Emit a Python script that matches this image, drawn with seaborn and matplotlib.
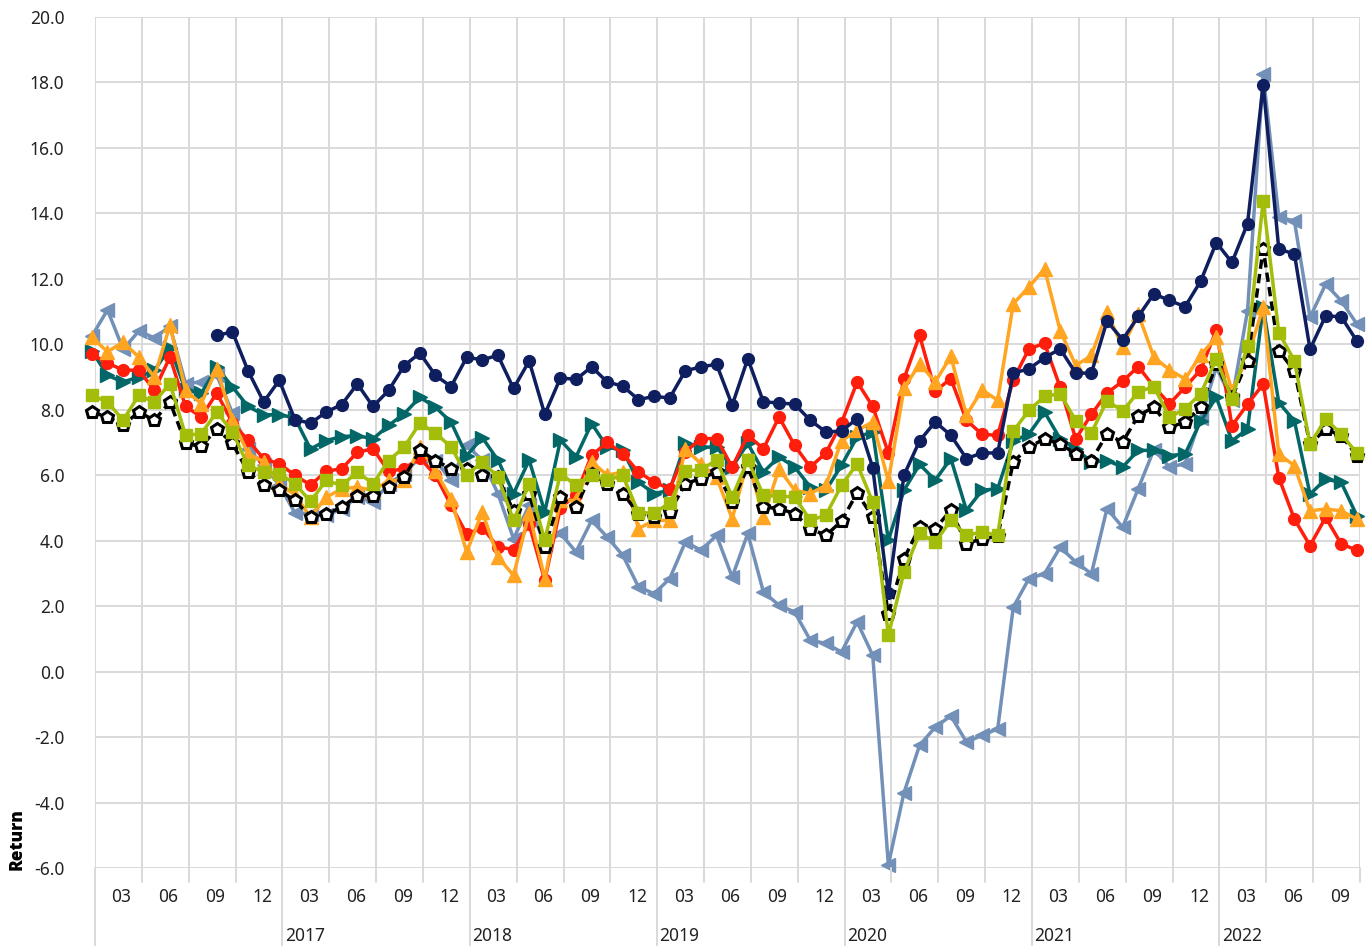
import numpy as np
import pandas as pd
import matplotlib
matplotlib.use("Agg")
import matplotlib.pyplot as plt
import seaborn as sns

# month index 0 = 2016-01 ... 81 = 2022-10
months = np.arange(82)
nan = np.nan

navy = [nan, nan, nan, nan, nan, nan, nan, nan,
        10.27, 10.38, 9.19, 8.24, 8.9, 7.7, 7.59, 7.93, 8.16, 8.79, 8.1, 8.59,
        9.35, 9.73, 9.05, 8.71, 9.6, 9.53, 9.66, 8.65, 9.49, 7.86, 8.97, 8.93,
        9.31, 8.85, 8.72, 8.31, 8.41, 8.36, 9.19, 9.31, 9.39, 8.14, 9.56, 8.24,
        8.21, 8.17, 7.68, 7.32, 7.35, 7.73, 6.23, 2.4, 6.0, 7.05, 7.63, 7.22,
        6.51, 6.68, 6.68, 9.12, 9.25, 9.59, 9.86, 9.12, 9.12, 10.71, 10.14, 10.85,
        11.54, 11.34, 11.15, 11.93, 13.11, 12.5, 13.69, 17.93, 12.91, 12.76, 9.85, 10.87,
        10.84, 10.1]
red = [9.69, 9.43, 9.21, 9.21, 8.6, 9.61, 8.1, 7.78, 8.51, 7.6, 7.07, 6.5,
       6.35, 6.0, 5.7, 6.12, 6.2, 6.7, 6.81, 6.12, 6.2, 6.53, 6.0, 5.08,
       4.2, 4.4, 3.81, 3.73, 4.5, 2.79, 5.0, 5.4, 6.61, 7.0, 6.66, 6.1,
       5.79, 5.59, 6.71, 7.12, 7.12, 6.25, 7.22, 6.81, 7.78, 6.91, 6.25, 6.68,
       7.6, 8.85, 8.1, 6.68, 8.95, 10.27, 8.57, 8.95, 7.68, 7.25, 7.22, 8.92,
       9.86, 10.03, 8.69, 7.11, 7.86, 8.51, 8.87, 9.32, 8.71, 8.18, 8.69, 9.22,
       10.43, 7.51, 8.17, 8.78, 5.93, 4.66, 3.85, 4.71, 3.9, 3.71]
orange = [10.22, 9.77, 10.07, 9.61, 9.0, 10.58, 8.59, 8.19, 9.26, 7.68, 6.66, 6.41,
          5.74, 5.4, 4.72, 5.33, 5.58, 5.64, 5.53, 5.84, 5.84, 6.86, 6.14, 5.28,
          3.65, 4.88, 3.5, 2.94, 4.85, 2.84, 5.23, 5.23, 6.41, 6.0, 6.1, 4.37,
          4.62, 4.62, 6.81, 6.35, 5.94, 4.67, 6.46, 4.73, 6.2, 5.54, 5.44, 5.69,
          7.05, 7.37, 7.63, 5.82, 8.65, 9.41, 8.85, 9.63, 7.83, 8.61, 8.29, 11.24,
          11.75, 12.31, 10.42, 9.35, 9.66, 10.98, 9.91, 10.93, 9.61, 9.22, 8.94, 9.68,
          10.21, 8.58, 9.6, 11.13, 6.65, 6.29, 4.91, 4.97, 4.91, 4.66]
teal = [9.8, 9.05, 8.85, 9.0, 9.2, 9.9, 8.6, 8.5, 9.3, 8.7, 8.1, 7.85,
        7.85, 7.75, 6.8, 7.06, 7.18, 7.21, 7.11, 7.52, 7.88, 8.38, 8.08, 7.62,
        6.6, 7.15, 6.46, 5.44, 6.46, 4.88, 7.07, 6.56, 7.58, 6.86, 6.76, 5.79,
        5.44, 5.54, 6.97, 6.86, 6.86, 6.25, 6.97, 6.1, 6.56, 6.25, 5.64, 5.54,
        6.3, 7.17, 7.32, 4.01, 5.54, 6.33, 5.85, 6.51, 4.93, 5.54, 5.59, 7.04,
        7.26, 7.93, 7.11, 6.81, 6.4, 6.45, 6.25, 6.76, 6.76, 6.6, 6.65, 7.65,
        8.38, 7.05, 7.41, 11.13, 8.22, 7.66, 5.42, 5.88, 5.78, 4.76]
steel = [10.25, 11.05, 9.85, 10.4, 10.2, 10.55, 8.8, 8.85, 9.05, 7.9, 6.8, 6.3,
         5.7, 4.85, 4.82, 4.77, 4.97, 5.33, 5.18, 5.74, 6.04, 6.55, 6.45, 5.84,
         6.91, 6.46, 5.44, 4.06, 5.08, 3.9, 4.22, 3.66, 4.62, 4.11, 3.55, 2.59,
         2.38, 2.84, 3.96, 3.71, 4.16, 2.89, 4.22, 2.43, 2.03, 1.82, 0.96, 0.86,
         0.6, 1.52, 0.5, -5.9, -3.7, -2.25, -1.7, -1.35, -2.15, -1.95, -1.75, 1.97,
         2.84, 2.99, 3.8, 3.35, 2.99, 4.98, 4.41, 5.59, 6.78, 6.25, 6.35, 7.75,
         9.3, 8.3, 11.03, 18.25, 13.88, 13.77, 10.82, 11.84, 11.33, 10.62]
black = [7.93, 7.78, 7.53, 7.93, 7.68, 8.24, 6.97, 6.88, 7.42, 6.97, 6.1, 5.69,
         5.54, 5.23, 4.73, 4.82, 5.02, 5.38, 5.38, 5.64, 5.94, 6.76, 6.45, 6.2,
         6.2, 6.0, 5.95, 4.9, 5.44, 3.81, 5.33, 5.03, 6.05, 5.74, 5.44, 4.83,
         4.73, 4.88, 5.74, 5.9, 6.1, 5.18, 6.25, 5.03, 4.98, 4.83, 4.37, 4.16,
         4.6, 5.46, 4.72, 1.77, 3.45, 4.42, 4.37, 4.93, 3.91, 4.06, 4.13, 6.41,
         6.86, 7.11, 6.96, 6.65, 6.45, 7.26, 7.01, 7.82, 8.08, 7.47, 7.62, 8.08,
         9.4, 8.38, 9.5, 12.91, 9.8, 9.19, 6.95, 7.41, 7.21, 6.6]
lime = [8.44, 8.24, 7.68, 8.44, 8.24, 8.8, 7.22, 7.27, 7.93, 7.32, 6.3, 6.1,
        6.05, 5.74, 5.2, 5.84, 5.69, 6.1, 5.74, 6.45, 6.86, 7.59, 7.29, 6.86,
        6.0, 6.41, 5.95, 4.62, 5.74, 4.01, 6.05, 5.69, 6.0, 5.85, 6.0, 4.85,
        4.85, 5.15, 6.13, 6.17, 6.46, 5.34, 6.46, 5.39, 5.36, 5.34, 4.62, 4.78,
        5.69, 6.35, 5.18, 1.11, 3.04, 4.22, 3.96, 4.62, 4.16, 4.27, 4.16, 7.35,
        7.98, 8.41, 8.49, 7.67, 7.29, 8.28, 7.96, 8.54, 8.71, 7.77, 8.03, 8.49,
        9.55, 8.33, 9.96, 14.38, 10.36, 9.5, 6.95, 7.71, 7.26, 6.67]

month_labels = ["03", "06", "09", "12"]
year_labels = ["2017", "2018", "2019", "2020", "2021", "2022"]

sns.set_theme(style="white")
plt.rcParams["font.family"] = ["Noto Sans", "DejaVu Sans"]

fig = plt.figure(figsize=(13.67, 9.46), dpi=100)
ax = fig.add_axes([95 / 1367, 78 / 946, 1265 / 1367, 851 / 946])

series = [
    (steel, "#7290b8", "<", 9.5, "-"),
    (teal, "#036767", ">", 9.5, "-"),
    (red, "#ff1d0c", "o", 8.5, "-"),
    (orange, "#ffa521", "^", 9.5, "-"),
    (black, "black", "p", 9, (0, (2.7, 1.5))),
    (navy, "#0f1e5e", "o", 8.5, "-"),
    (lime, "#a4bd0b", "s", 8.5, "-"),
]
for vals, col, mk, ms, ls in series:
    df = pd.DataFrame({"month": months, "ret": vals}).dropna()
    face = "white" if mk == "p" else col
    sns.lineplot(data=df, x="month", y="ret", ax=ax, color=col, marker=mk,
                 markersize=ms, markerfacecolor=face, markeredgecolor=col,
                 markeredgewidth=2.2 if mk == "p" else 1, linewidth=2.5,
                 linestyle=ls, clip_on=False)

ax.set_xlim(0.2, 81.2)
ax.set_ylim(-6, 20)
ax.set_yticks(np.arange(-6, 21, 2))
ax.set_yticklabels([f"{v:.1f}" for v in np.arange(-6, 21, 2)])
grid_x = 0.2 + 3 * np.arange(28)
ax.set_xticks(grid_x)
ax.set_xticklabels([])
ax.grid(True, color="#d9d9d9", linewidth=1.4)
ax.set_axisbelow(True)
for s in ax.spines.values():
    s.set_visible(False)
ax.tick_params(axis="both", length=0, labelsize=12.5, colors="#222222", pad=22)
ax.set_xlabel("")
ax.set_ylabel("")

trans = ax.get_xaxis_transform()
for k, g in enumerate(grid_x):
    bottom = -0.092 if k % 4 == 0 else -0.017
    ax.plot([g, g], [0, bottom], color="#d9d9d9", lw=1.4, transform=trans,
            clip_on=False)
for k in range(27):
    ax.text(1.9 + 3 * k, -0.034, month_labels[k % 4], transform=trans,
            ha="center", va="center", fontsize=12.5, color="#222222")
for j, y in enumerate(year_labels):
    ax.text(12.35 + 12 * j, -0.08, y, transform=trans, ha="left",
            va="center", fontsize=12.5, color="#222222")

fig.text(17 / 1367, 1 - 839 / 946, "Return", rotation=90, ha="center",
         va="center", fontsize=12.5, fontweight="heavy", color="black",
         family=["Open Sans", "Liberation Sans", "DejaVu Sans"])

fig.savefig("out.png", dpi=100)
